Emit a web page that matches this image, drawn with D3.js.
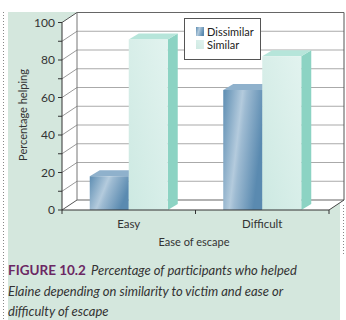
<!DOCTYPE html>
<html>
<head>
<meta charset="utf-8">
<script src="https://cdn.jsdelivr.net/npm/d3@7"></script>
<style>
  body { margin: 0; background: #fff; }
  svg { display: block; font-family: Lato, "Noto Sans", sans-serif; }
</style>
</head>
<body>
<div id="chart"></div>
<script>
// data
const categories = ["Easy", "Difficult"];
const seriesNames = ["Dissimilar", "Similar"];
const dissimilar = [18, 64];
const similar = [91, 82];
const yTicks = [0, 20, 40, 60, 80, 100];
const captionLines = ["Percentage of participants who helped",
                      "Elaine depending on similarity to victim and ease or",
                      "difficulty of escape"];

const WIDTH = 346, HEIGHT = 320;
const DX = 15, DY = -10;     // depth of walls
const BDX = 10, BDY = -6;    // depth of bars

const svg = d3.select("#chart").append("svg").attr("width", WIDTH).attr("height", HEIGHT);
const defs = svg.append("defs");

// gradients for the bar faces
const gBlue = defs.append("linearGradient").attr("id", "blueFront")
  .attr("x1", 0).attr("y1", 0).attr("x2", 1).attr("y2", 0.35);
gBlue.append("stop").attr("offset", 0).attr("stop-color", "#5d8db2");
gBlue.append("stop").attr("offset", 0.45).attr("stop-color", "#b4cbdd");
gBlue.append("stop").attr("offset", 0.55).attr("stop-color", "#9ebbd2");
gBlue.append("stop").attr("offset", 1).attr("stop-color", "#5a8ab0");

const gMint = defs.append("linearGradient").attr("id", "mintFront")
  .attr("x1", 0).attr("y1", 1).attr("x2", 1).attr("y2", 0);
gMint.append("stop").attr("offset", 0).attr("stop-color", "#cde9e2");
gMint.append("stop").attr("offset", 1).attr("stop-color", "#e2f3ef");

const faces = {
  Dissimilar: { front: "url(#blueFront)", top: "#8fb1cc", side: "#4f7fa5" },
  Similar: { front: "url(#mintFront)", top: "#b6e5da", side: "#8cd3c3" }
};

// green panel + dotted border
svg.append("rect").attr("x", 8).attr("y", 12).attr("width", 332).attr("height", 308).attr("fill", "#d4e7dd");
svg.append("line").attr("x1", 3.5).attr("x2", 3.5).attr("y1", 12).attr("y2", 320)
  .attr("stroke", "#888").attr("stroke-dasharray", "1,2");
svg.append("line").attr("x1", 343.5).attr("x2", 343.5).attr("y1", 205).attr("y2", 255)
  .attr("stroke", "#888").attr("stroke-dasharray", "1,2");

// scales
const y = d3.scaleLinear().domain([0, 100]).range([210, 22.5]);
const x0 = d3.scaleBand().domain(categories).range([62, 329]);
const x1 = d3.scaleBand().domain(seriesNames).range([0, 78]);
const groupOff = (x0.bandwidth() - 78) / 2;
const xL = x0.range()[0], xR = x0.range()[1];

// walls
const pt = p => p.map(d => d.join(",")).join(" ");
svg.append("polygon").attr("fill", "#fff")
  .attr("points", pt([[xL + DX, y(100) + DY], [xR + DX, y(100) + DY], [xR + DX, y(0) + DY], [xR, y(0)], [xL, y(0)], [xL, y(100)]]));

const grid = d3.range(0, 101, 10);
// back wall gridlines
svg.selectAll(".grid").data(grid).enter().append("line")
  .attr("x1", xL + DX).attr("x2", xR + DX)
  .attr("y1", d => y(d) + DY).attr("y2", d => y(d) + DY)
  .attr("stroke", d => d === 0 || d === 100 ? "#666" : "#aaa").attr("stroke-width", 1.2);
// side wall lines
svg.selectAll(".side").data(grid).enter().append("line")
  .attr("x1", xL).attr("x2", xL + DX)
  .attr("y1", d => y(d)).attr("y2", d => y(d) + DY)
  .attr("stroke", d => d === 0 || d === 100 ? "#555" : "#999");
// back wall edges
svg.append("line").attr("x1", xL + DX).attr("x2", xL + DX).attr("y1", y(100) + DY).attr("y2", y(0) + DY).attr("stroke", "#777");
svg.append("line").attr("x1", xR + DX).attr("x2", xR + DX).attr("y1", y(100) + DY).attr("y2", y(0) + DY).attr("stroke", "#555");
// floor edges
svg.append("line").attr("x1", xR).attr("x2", xR + DX).attr("y1", y(0)).attr("y2", y(0) + DY).attr("stroke", "#444");

// bars
categories.forEach((cat, i) => {
  const vals = { Dissimilar: dissimilar[i], Similar: similar[i] };
  seriesNames.forEach(s => {
    const bx = x0(cat) + groupOff + x1(s), bw = x1.bandwidth();
    const yt = y(vals[s]), yb = y(0);
    const g = svg.append("g");
    g.append("polygon").attr("fill", faces[s].side)
      .attr("points", pt([[bx + bw, yt], [bx + bw + BDX, yt + BDY], [bx + bw + BDX, yb + BDY], [bx + bw, yb]]));
    g.append("polygon").attr("fill", faces[s].top)
      .attr("points", pt([[bx, yt], [bx + bw, yt], [bx + bw + BDX, yt + BDY], [bx + BDX, yt + BDY]]));
    g.append("rect").attr("x", bx).attr("y", yt).attr("width", bw).attr("height", yb - yt).attr("fill", faces[s].front);
  });
});

// front axes
svg.append("line").attr("x1", xL).attr("x2", xL).attr("y1", y(0)).attr("y2", y(100)).attr("stroke", "#333");
svg.append("line").attr("x1", xL).attr("x2", xR).attr("y1", y(0)).attr("y2", y(0)).attr("stroke", "#333");
svg.selectAll(".ytick").data(grid).enter().append("line")
  .attr("x1", xL - 4).attr("x2", xL).attr("y1", d => y(d)).attr("y2", d => y(d)).attr("stroke", "#333");
svg.selectAll(".ylab").data(yTicks).enter().append("text")
  .attr("x", xL - 7).attr("y", d => y(d) + 4).attr("text-anchor", "end")
  .attr("font-size", 12).attr("fill", "#333").text(d => d);
const xTickPos = [xL].concat(categories.map(c => x0(c) + x0.bandwidth()));
svg.selectAll(".xtick").data(xTickPos).enter().append("line")
  .attr("x1", d => d).attr("x2", d => d).attr("y1", y(0)).attr("y2", y(0) + 4).attr("stroke", "#333");
svg.selectAll(".xlab").data(categories).enter().append("text")
  .attr("x", d => x0(d) + x0.bandwidth() / 2).attr("y", 228).attr("text-anchor", "middle")
  .attr("font-size", 11.5).attr("fill", "#333").text(d => d);

// axis titles
svg.append("text").attr("x", 194).attr("y", 246).attr("text-anchor", "middle")
  .attr("font-size", 11).attr("fill", "#333").text("Ease of escape");
svg.append("text").attr("transform", "rotate(-90)").attr("x", -115).attr("y", 27).attr("text-anchor", "middle")
  .attr("font-size", 11).attr("fill", "#333").text("Percentage helping");

// legend
const legend = svg.append("g").attr("transform", "translate(184,18)");
legend.append("rect").attr("x", 0.5).attr("y", 0.5).attr("width", 76).attr("height", 41)
  .attr("fill", "#fff").attr("stroke", "#555");
seriesNames.forEach((s, i) => {
  const row = legend.append("g").attr("transform", "translate(12," + (9 + i * 13) + ")");
  row.append("rect").attr("width", 8).attr("height", 9).attr("fill", faces[s].front);
  row.append("text").attr("x", 11).attr("y", 9).attr("font-size", 11).attr("fill", "#222").text(s);
});

// caption
const cap = svg.append("g").attr("font-size", 13);
const first = cap.append("text").attr("x", 8).attr("y", 275);
first.append("tspan").attr("font-weight", "bold").attr("font-size", 13.5).attr("fill", "#6b2763").text("FIGURE 10.2");
first.append("tspan").attr("x", 91).attr("font-style", "italic").attr("fill", "#333").text(captionLines[0]);
captionLines.slice(1).forEach((l, i) => {
  cap.append("text").attr("x", 8).attr("y", 296 + i * 20).attr("font-style", "italic").attr("fill", "#333").text(l);
});
</script>
</body>
</html>
